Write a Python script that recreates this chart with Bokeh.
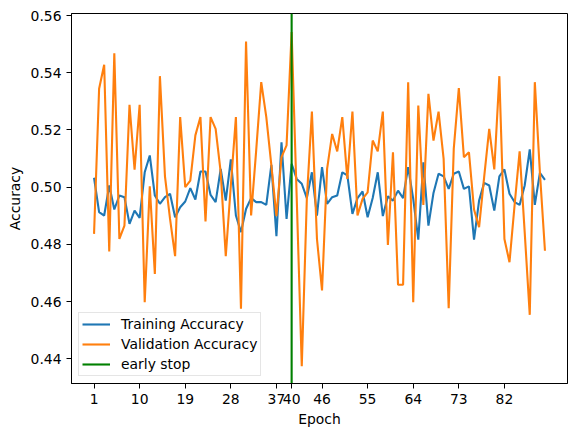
from bokeh.plotting import figure
from bokeh.models import FixedTicker, PrintfTickFormatter, Range1d, Legend, LegendItem
from bokeh.embed import file_html
from bokeh.resources import INLINE

epochs = list(range(1, 91))
train_acc = [
    0.5033, 0.4913, 0.4901, 0.5006, 0.4922, 0.4971, 0.4965, 0.4872, 0.4918, 0.4893,
    0.5052, 0.5111, 0.4971, 0.4942, 0.4965, 0.4977, 0.4895, 0.4930, 0.4950, 0.4997,
    0.4957, 0.5055, 0.5055, 0.4973, 0.4948, 0.5064, 0.4953, 0.5097, 0.4901, 0.4843,
    0.4924, 0.4962, 0.4948, 0.4948, 0.4938, 0.5078, 0.4829, 0.5157, 0.4889, 0.5082,
    0.5029, 0.5012, 0.4962, 0.5052, 0.4901, 0.5070, 0.4942, 0.4965, 0.4971, 0.5052,
    0.5041, 0.4907, 0.4962, 0.4985, 0.4895, 0.4962, 0.5052, 0.4899, 0.4968, 0.4953,
    0.4988, 0.4962, 0.5070, 0.4959, 0.4817, 0.5087, 0.4866, 0.4980, 0.5047, 0.5038,
    0.4994, 0.5047, 0.5055, 0.4994, 0.5003, 0.4817, 0.4953, 0.5015, 0.5006, 0.4918,
    0.5038, 0.5062, 0.4977, 0.4948, 0.4938, 0.5006, 0.5132, 0.4938, 0.5050, 0.5026,
]
val_acc = [
    0.4837, 0.5344, 0.5428, 0.4775, 0.5468, 0.4819, 0.4866, 0.5288, 0.5061, 0.5288,
    0.4598, 0.5003, 0.4697, 0.5388, 0.5038, 0.4889, 0.4759, 0.5245, 0.5000, 0.5023,
    0.5181, 0.5245, 0.4880, 0.5245, 0.5204, 0.5052, 0.4759, 0.5006, 0.5245, 0.4575,
    0.5509, 0.4901, 0.5128, 0.5367, 0.5245, 0.5076, 0.4899, 0.5105, 0.5146, 0.5542,
    0.4965, 0.4374, 0.4959, 0.5264, 0.4819, 0.4639, 0.5064, 0.5186, 0.5125, 0.5245,
    0.5029, 0.5264, 0.4901, 0.4959, 0.4982, 0.5163, 0.5125, 0.5264, 0.4798, 0.5122,
    0.4659, 0.4659, 0.5367, 0.4598, 0.5285, 0.4938, 0.5326, 0.5163, 0.5264, 0.5099,
    0.4577, 0.5134, 0.5346, 0.5105, 0.5122, 0.4922, 0.4860, 0.5035, 0.5204, 0.5062,
    0.5388, 0.4819, 0.4738, 0.4936, 0.5125, 0.4843, 0.4554, 0.5367, 0.5052, 0.4778,
]
early_stop_epoch = 40
x_ticks = [1, 10, 19, 28, 37, 40, 46, 55, 64, 73, 82]
y_ticks = [0.44, 0.46, 0.48, 0.50, 0.52, 0.54, 0.56]

FONT = "DejaVu Sans"
FS = "13.9px"
y_lo, y_hi = 0.4314, 0.5607

p = figure(width=576, height=436, output_backend="svg", toolbar_location=None,
           x_range=Range1d(-3.45, 94.45), y_range=Range1d(y_lo, y_hi),
           min_border_left=71, min_border_right=9, min_border_top=13, min_border_bottom=53)
p.xgrid.visible = False
p.ygrid.visible = False
p.outline_line_color = "black"
p.outline_line_width = 1
p.background_fill_color = "white"
p.border_fill_color = "white"

r_train = p.line(epochs, train_acc, line_color="#1f77b4", line_width=2.1)
r_val = p.line(epochs, val_acc, line_color="#ff7f0e", line_width=2.1)
r_stop = p.line([early_stop_epoch, early_stop_epoch], [y_lo, y_hi], line_color="#008000", line_width=2.1)

for ax in (p.xaxis[0], p.yaxis[0]):
    ax.axis_line_color = "black"
    ax.major_tick_line_color = "black"
    ax.major_tick_out = 5
    ax.major_tick_in = 0
    ax.minor_tick_line_color = None
    ax.major_label_text_font = FONT
    ax.major_label_text_font_size = FS
    ax.major_label_text_color = "black"
    ax.axis_label_text_font = FONT
    ax.axis_label_text_font_size = FS
    ax.axis_label_text_font_style = "normal"
    ax.axis_label_text_color = "black"
    ax.major_label_standoff = 5

p.xaxis[0].ticker = FixedTicker(ticks=x_ticks)
p.yaxis[0].ticker = FixedTicker(ticks=y_ticks)
p.yaxis[0].formatter = PrintfTickFormatter(format="%.2f")
p.xaxis[0].axis_label = "Epoch"
p.yaxis[0].axis_label = "Accuracy"
p.xaxis[0].axis_label_standoff = 4
p.yaxis[0].axis_label_standoff = 5

legend = Legend(items=[
    LegendItem(label="Training Accuracy", renderers=[r_train]),
    LegendItem(label="Validation Accuracy", renderers=[r_val]),
    LegendItem(label="early stop", renderers=[r_stop]),
], location="bottom_left")
legend.label_text_font = FONT
legend.label_text_font_size = FS
legend.label_text_color = "black"
legend.border_line_color = "#cccccc"
legend.border_line_width = 1
legend.background_fill_alpha = 0.8
legend.margin = 7
legend.padding = 3
legend.spacing = 4
legend.glyph_height = 14
legend.label_height = 14
legend.glyph_width = 28
legend.label_standoff = 11
p.add_layout(legend)

open("out.html", "w").write(file_html(p, INLINE))
